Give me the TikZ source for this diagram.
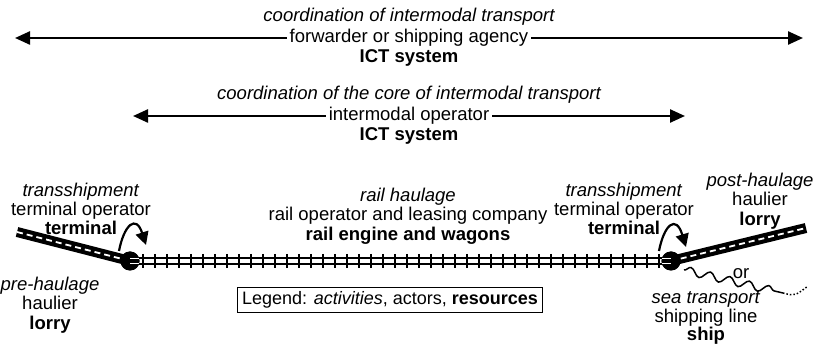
\documentclass[tikz,border=0pt]{standalone}
\usepackage{fontspec}
\setmainfont{Liberation Sans}
\usetikzlibrary{arrows.meta,decorations.pathmorphing}
\begin{document}
\begin{tikzpicture}[x=1pt,y=-1pt,
  txt/.style={inner sep=0pt,outer sep=3pt,font=\fontsize{18.5}{20}\selectfont},
  act/.style={txt,font=\fontsize{18.5}{20}\selectfont\itshape},
  res/.style={txt,font=\fontsize{18.5}{20}\selectfont\bfseries},
  stack/.style={txt,align=center,font=\fontsize{18.5}{19.3}\selectfont},
  span/.style={line width=2.4pt,-{Triangle[length=15pt,width=13pt]}},
  hop/.style={line width=2.2pt,-{Triangle[length=13pt,width=13pt]}},
  roadbed/.style={line width=10pt,black},
  roadmark/.style={line width=1.8pt,white,dash pattern=on 6pt off 4pt},
  railline/.style={line width=1.8pt},
  hub/.style={circle,fill=black,minimum size=19pt,inner sep=0pt}]
\useasboundingbox (0,0) rectangle (817,344);

% coordination of the whole chain
\node[act] (c1) at (409,17) {coordination of intermodal transport};
\node[txt] (fwd) at (409,38) {forwarder or shipping agency};
\node[res] (ict1) at (409,58) {ICT system};
\coordinate (fwdL) at (15,38);
\coordinate (fwdR) at (803,38);
\draw[span] (fwd.west) -- (fwdL);
\draw[span] (fwd.east) -- (fwdR);

% coordination of the core
\node[act] (c2) at (409,95) {coordination of the core of intermodal transport};
\node[txt] (iop) at (409,116) {intermodal operator};
\node[res] (ict2) at (409,136) {ICT system};
\coordinate (iopL) at (133,116);
\coordinate (iopR) at (685,116);
\draw[span] (iop.west) -- (iopL);
\draw[span] (iop.east) -- (iopR);

% rail haulage
\foreach \x in {143,155,...,660} \draw[line width=1.8pt] (\x,254) -- (\x,268);
\coordinate (railL) at (130,258);
\coordinate (railR) at (671,258);
\coordinate (railL2) at (130,264);
\coordinate (railR2) at (671,264);
\draw[railline] (railL) -- (railR);
\draw[railline] (railL2) -- (railR2);

% roads
\coordinate (roadA) at (17,232);
\coordinate (roadB) at (806,228);
\node[hub] (hubL) at (130,261) {};
\node[hub] (hubR) at (671,261) {};
\draw[roadbed] (roadA) -- (hubL.center);
\draw[roadmark] (roadA) -- (hubL.center);
\draw[roadbed] (hubR.center) -- (roadB);
\draw[roadmark] (hubR.center) -- (roadB);
\node[hub] at (hubL) {};
\node[hub] at (hubR) {};
\draw[white,line width=1.2pt] (hubL.center)+(0,-2.5) -- +(9,-2.5) (hubL.center)+(0,2.5) -- +(9,2.5);
\draw[white,line width=1.2pt] (hubR.center)+(-9,-2.5) -- +(0,-2.5) (hubR.center)+(-9,2.5) -- +(0,2.5);

% sea route
\coordinate (seaA) at (684,270);
\coordinate (seaB) at (783,293);
\coordinate (seaC) at (808,286);
\draw[line width=1.5pt,decorate,decoration={snake,amplitude=4pt,segment length=20pt}] (seaA) -- (seaB);
\draw[line width=1.5pt,dotted] (seaB) .. controls (795,296) .. (seaC);

% transshipment hops
\coordinate (hL1) at (119,251);
\coordinate (hL2) at (146,245);
\draw[hop] (hL1) .. controls (124,225) and (136,214) .. (hL2);
\coordinate (hR1) at (659,251);
\coordinate (hR2) at (686,247);
\draw[hop] (hR1) .. controls (664,225) and (676,214) .. (hR2);

% labels along the chain: activity, actor, resource
\node[stack] (tsL) at (81,209) {\textit{transshipment}\\terminal operator\\\textbf{terminal}};
\node[stack] (rh) at (408,216) {\textit{rail haulage}\\rail operator and leasing company\\\textbf{rail engine and wagons}};
\node[stack] (tsR) at (624,209) {\textit{transshipment}\\terminal operator\\\textbf{terminal}};
\node[stack] (post) at (760,201) {\textit{post-haulage}\\haulier\\\textbf{lorry}};
\node[stack] (pre) at (50,305) {\textit{pre-haulage}\\haulier\\\textbf{lorry}};

\node[txt,outer sep=0pt] (or) at (741,274) {or};
\node[stack,font=\fontsize{18.5}{16.8}\selectfont] (sea) at (706,318) {\textit{sea transport}\\shipping line\\\textbf{ship}};

% legend
\node[txt,draw,line width=1pt,inner xsep=5pt,inner ysep=4pt,font=\fontsize{18}{20}\selectfont] (legend) at (390,300)
  {Legend: \textit{activities}, actors, \textbf{resources}};
\end{tikzpicture}
\end{document}
